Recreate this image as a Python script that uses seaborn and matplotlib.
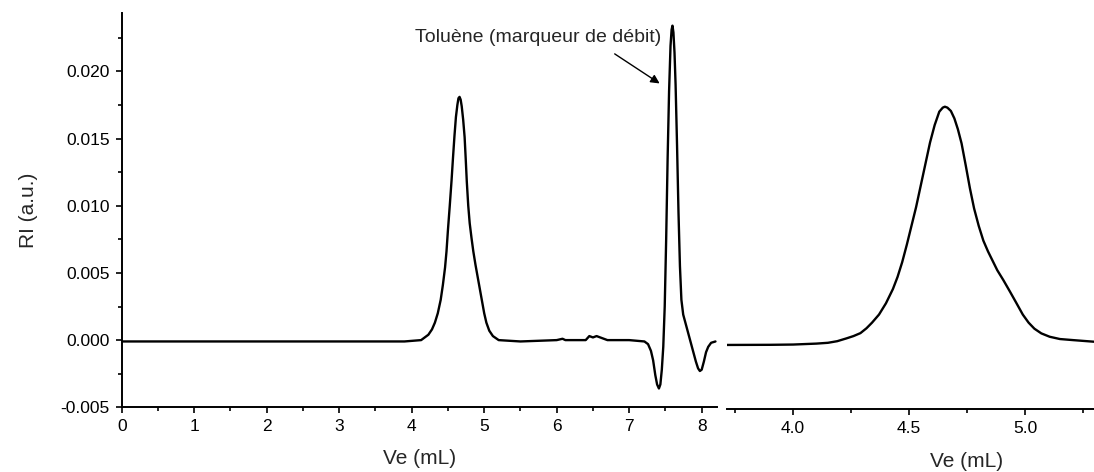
import numpy as np
import pandas as pd
import matplotlib
matplotlib.use("Agg")
import matplotlib.pyplot as plt
from matplotlib.ticker import MultipleLocator, FormatStrFormatter
import seaborn as sns

# ---------------- data ----------------
# full chromatogram (left panel)
ve_full = [0.0, 1.0, 2.0, 3.0, 3.9, 4.13, 4.18, 4.23, 4.28, 4.32, 4.36, 4.40,
           4.43, 4.46, 4.48, 4.50, 4.525, 4.55, 4.57, 4.59, 4.61, 4.63, 4.645,
           4.66, 4.675, 4.69, 4.71, 4.73, 4.745, 4.76, 4.78, 4.80, 4.825, 4.85,
           4.88, 4.91, 4.94, 4.97, 5.00, 5.03, 5.07, 5.12, 5.20, 5.50, 6.00,
           6.08, 6.12, 6.40, 6.45, 6.50, 6.55, 6.60, 6.70, 7.00, 7.21, 7.26,
           7.30, 7.33, 7.36, 7.385, 7.41, 7.43, 7.45, 7.47, 7.49, 7.51, 7.53,
           7.55, 7.57, 7.585, 7.597, 7.61, 7.625, 7.64, 7.66, 7.68, 7.70, 7.72,
           7.745, 7.77, 7.80, 7.83, 7.86, 7.89, 7.92, 7.95, 7.975, 8.00, 8.03,
           8.06, 8.09, 8.13, 8.19]
ri_full = [-0.0001, -0.0001, -0.0001, -0.0001, -0.0001, 0.0000, 0.0002, 0.0004,
           0.0008, 0.0013, 0.0020, 0.0030, 0.0041, 0.0054, 0.0066, 0.0082,
           0.0100, 0.0119, 0.0136, 0.0152, 0.0166, 0.0175, 0.0180, 0.0181,
           0.0179, 0.0174, 0.0164, 0.0151, 0.0135, 0.0118, 0.0100, 0.0087,
           0.0076, 0.0066, 0.0056, 0.0047, 0.0038, 0.0029, 0.0020, 0.0013,
           0.0007, 0.0003, 0.0000, -0.0001, 0.0000, 0.0001, 0.0000, 0.0000,
           0.0003, 0.0002, 0.0003, 0.0002, 0.0000, 0.0000, -0.0001, -0.0003,
           -0.0008, -0.0015, -0.0026, -0.0033, -0.0036, -0.0033, -0.0022,
           -0.0005, 0.0025, 0.0075, 0.0135, 0.0185, 0.0219, 0.0231, 0.0234,
           0.0229, 0.0214, 0.0190, 0.0145, 0.0095, 0.0055, 0.0030, 0.0019,
           0.0014, 0.0008, 0.0002, -0.0004, -0.0010, -0.0016, -0.0021, -0.0023,
           -0.0022, -0.0016, -0.0009, -0.0005, -0.0002, -0.0001]

# enlarged peak (right panel)
ve_zoom = [3.713, 3.90, 4.00, 4.10, 4.15, 4.19, 4.23, 4.26, 4.29, 4.316, 4.34,
           4.37, 4.40, 4.43, 4.45, 4.47, 4.49, 4.51, 4.53, 4.55, 4.57, 4.59,
           4.61, 4.63, 4.645, 4.654, 4.665, 4.68, 4.695, 4.71, 4.726, 4.744,
           4.762, 4.78, 4.80, 4.82, 4.84, 4.86, 4.88, 4.906, 4.935, 4.963,
           4.99, 5.015, 5.04, 5.07, 5.106, 5.15, 5.207, 5.297]
ri_zoom = [-0.00036, -0.00035, -0.00033, -0.00026, -0.00020, -0.00008,
           0.00013, 0.00030, 0.00052, 0.00088, 0.0013, 0.0019, 0.00274, 0.0038,
           0.0047, 0.0058, 0.0071, 0.0085, 0.0099, 0.0115, 0.0131, 0.0147,
           0.0160, 0.0170, 0.01730, 0.01737, 0.01730, 0.01705, 0.0165, 0.0157,
           0.01464, 0.0130, 0.0113, 0.0098, 0.0085, 0.0074, 0.0066, 0.0059,
           0.0052, 0.00447, 0.0036, 0.00274, 0.0019, 0.0013, 0.00085, 0.0005,
           0.00025, 0.00008, 0.0000, -0.00012]

x_label = "Ve (mL)"
y_label = "RI (a.u.)"
note_text = "Toluène (marqueur de débit)"

df_full = pd.DataFrame({"Ve": ve_full, "RI": ri_full})
df_zoom = pd.DataFrame({"Ve": ve_zoom, "RI": ri_zoom})

# ---------------- style ----------------
sns.set_style("ticks")
plt.rcParams["font.family"] = ["Liberation Sans", "DejaVu Sans"]
plt.rcParams["axes.unicode_minus"] = False
plt.rcParams["axes.linewidth"] = 1.4
for a in ("x", "y"):
    plt.rcParams[f"{a}tick.major.width"] = 1.2
    plt.rcParams[f"{a}tick.minor.width"] = 1.2
    plt.rcParams[f"{a}tick.major.size"] = 4.5
    plt.rcParams[f"{a}tick.minor.size"] = 2.6
    plt.rcParams[f"{a}tick.direction"] = "out"
    plt.rcParams[f"{a}tick.color"] = "black"
    plt.rcParams[f"{a}tick.labelcolor"] = "black"
plt.rcParams["axes.edgecolor"] = "black"

W, H = 1094, 472
fig = plt.figure(figsize=(W / 100, H / 100), dpi=100)

ax1 = fig.add_axes([121.7 / W, 1 - 407.3 / H, (716.7 - 121.7) / W, (407.3 - 13.3) / H])
ax2 = fig.add_axes([727.3 / W, 1 - 409.0 / H, (1094 - 727.3) / W, (409.0 - 13.3) / H])

line_kw = dict(color="black", lw=1.7, estimator=None, sort=False,
               solid_joinstyle="round", solid_capstyle="round")
sns.lineplot(data=df_full, x="Ve", y="RI", ax=ax1, **line_kw)
sns.lineplot(data=df_zoom, x="Ve", y="RI", ax=ax2, **line_kw)

# left axes
ax1.set_xlim(0, 8.207)
ax1.set_ylim(-0.005, 0.02432)
ax1.xaxis.set_major_locator(MultipleLocator(1))
ax1.xaxis.set_minor_locator(MultipleLocator(0.5))
ax1.yaxis.set_major_locator(MultipleLocator(0.005))
ax1.yaxis.set_minor_locator(MultipleLocator(0.0025))
ax1.yaxis.set_major_formatter(FormatStrFormatter("%.3f"))
ax1.xaxis.set_major_formatter(FormatStrFormatter("%d"))
ax1.tick_params(labelsize=12.5, pad=4)
sns.despine(ax=ax1)
ax1.set_xlabel(x_label, fontsize=15, labelpad=11)
ax1.set_ylabel(y_label, fontsize=15)
ax1.yaxis.set_label_coords(-0.141, 0.5)

# right axes
ax2.set_xlim(3.716, 5.297)
ax2.set_ylim(-0.005 - 1.7 / 13440, 0.02432)
ax2.xaxis.set_major_locator(MultipleLocator(0.5))
ax2.xaxis.set_minor_locator(MultipleLocator(0.25))
ax2.xaxis.set_major_formatter(FormatStrFormatter("%.1f"))
ax2.tick_params(labelsize=12.5, pad=4)
ax2.set_yticks([])
sns.despine(ax=ax2, left=True)
ax2.set_xlabel(x_label, fontsize=15)
ax2.set_ylabel("")
ax2.xaxis.set_label_coords((967 - 727.3) / (1094 - 727.3), -0.108)
ax2.xaxis.label.set_va("top")

# annotation
ax1.text(4.04, 0.0225, note_text, fontsize=14, ha="left", va="center")
ax1.annotate("", xy=(7.42, 0.0191), xytext=(6.80, 0.0213),
             arrowprops=dict(arrowstyle="-|>", color="black", lw=1.0,
                             mutation_scale=13, shrinkA=0, shrinkB=0))

fig.savefig("out.png", dpi=100)
